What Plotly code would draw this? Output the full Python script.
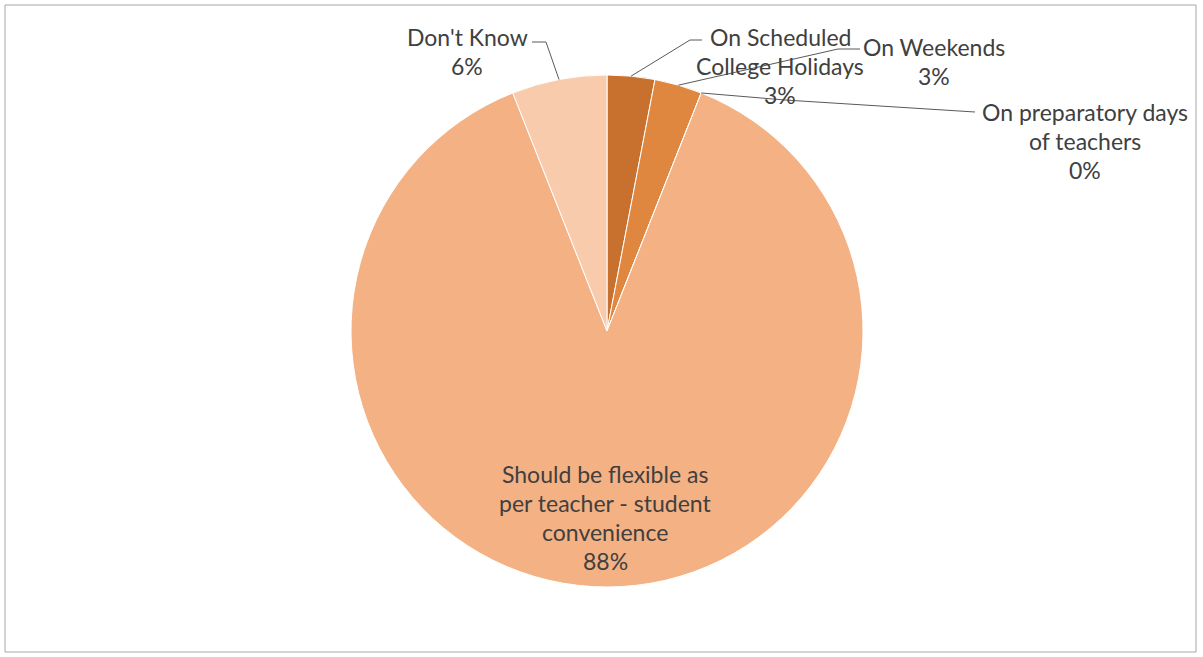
import math
import plotly.graph_objects as go

# ---- data ----
categories = ["On Scheduled College Holidays", "On Weekends",
              "On preparatory days of teachers",
              "Should be flexible as per teacher - student convenience",
              "Don't Know"]
values = [3, 3, 0, 88, 6]
colors = ["#C8702E", "#E0873F", "#EE9B5C", "#F4B183", "#F8CBAD"]
label_lines = [
    ["On Scheduled", "College Holidays", "3%"],
    ["On Weekends", "3%"],
    ["On preparatory days", "of teachers", "0%"],
    ["Should be flexible as", "per teacher - student", "convenience", "88%"],
    ["Don't Know", "6%"],
]

W, H = 1203, 657
CX, CY, R = 607, 331, 256

# label layout (pixel centres of first line) and leader elbows
label_pos = [(780, 37), (934, 47), (1085, 112), (605, 474), (467, 37)]
elbows = [[(702, 40), (690, 40)],
          [(860, 49), (838, 49)],
          [(975, 112), (785, 100)],
          None,
          [(532, 42), (546, 42)]]
LINE_H = 29

def px(x):
    return x / W

def py(y):
    return 1 - y / H

fig = go.Figure()
fig.add_trace(go.Pie(
    labels=categories, values=values, sort=False, direction="clockwise",
    rotation=0, marker=dict(colors=colors, line=dict(color="white", width=1)),
    textinfo="none", hoverinfo="label+percent", showlegend=False,
    domain=dict(x=[px(CX - 300), px(CX + 300)],
                y=[py(CY + R), py(CY - R)]),
))

annotations = []
shapes = []
total = sum(values)
cum = 0
for i, v in enumerate(values):
    mid = (cum + v / 2) / total
    cum += v
    lx, ly = label_pos[i]
    for j, t in enumerate(label_lines[i]):
        annotations.append(dict(
            x=px(lx), y=py(ly + j * LINE_H), xref="paper", yref="paper",
            text=t, showarrow=False, xanchor="center", yanchor="middle",
            font=dict(family="Lato, Open Sans, sans-serif", size=23, color="#404040"),
        ))
    if elbows[i] is not None:
        ang = mid * 2 * math.pi
        ex = CX + R * math.sin(ang)
        ey = CY - R * math.cos(ang)
        pts = elbows[i] + [(ex, ey)]
        path = "M " + " L ".join(f"{px(a)} {py(b)}" for a, b in pts)
        shapes.append(dict(type="path", xref="paper", yref="paper", path=path,
                           line=dict(color="#595959", width=1)))

shapes.append(dict(type="rect", xref="paper", yref="paper",
                   x0=px(5), x1=px(1196), y0=py(652), y1=py(5),
                   line=dict(color="#A6A6A6", width=1)))

fig.update_layout(
    width=W, height=H, margin=dict(l=0, r=0, t=0, b=0),
    paper_bgcolor="white", plot_bgcolor="white",
    annotations=annotations, shapes=shapes,
)
fig.write_html("out.html", config={"displayModeBar": False},
               post_script="document.body.style.margin='0';")
